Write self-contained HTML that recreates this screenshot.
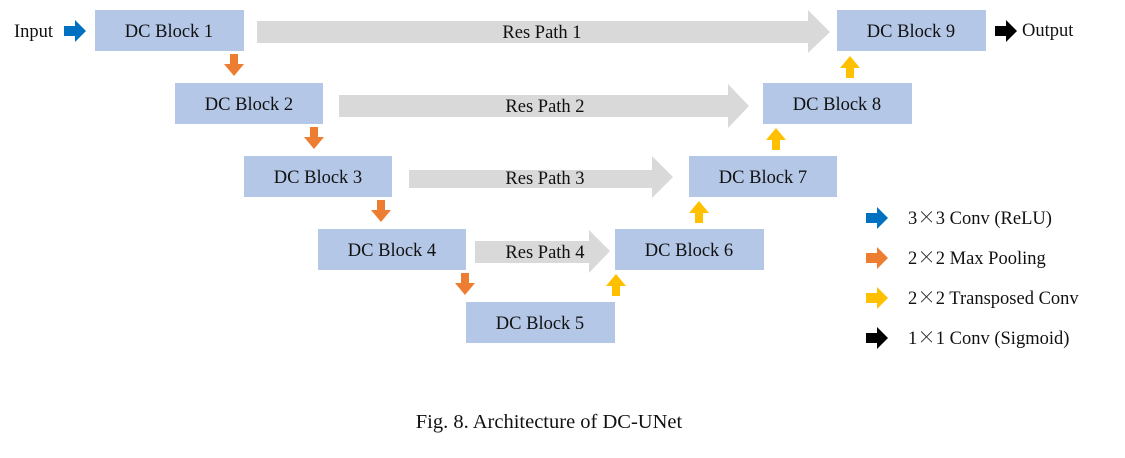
<!DOCTYPE html>
<html><head><meta charset="utf-8"><style>
body{margin:0;background:#fff;width:1125px;height:453px;overflow:hidden}
svg text{font-family:"Liberation Serif","Noto Serif CJK SC",serif;fill:#111}
.x{font-family:"Noto Serif CJK SC","Noto Sans CJK SC",serif}
</style></head><body>
<svg width="1125" height="453" xmlns="http://www.w3.org/2000/svg">
<g fill="#d9d9d9">
<polygon points="257,21 808,21 808,10 830,32 808,53 808,43 257,43"/>
<polygon points="339,95 728,95 728,84 749,106 728,128 728,117 339,117"/>
<polygon points="409,170 652,170 652,156 673,177 652,198 652,188 409,188"/>
<polygon points="475,241 589,241 589,230 610,251 589,273 589,263 475,263"/>
</g>
<g font-size="18.5" text-anchor="middle">
<text x="542" y="38">Res Path 1</text>
<text x="545" y="112">Res Path 2</text>
<text x="545" y="184">Res Path 3</text>
<text x="545" y="258">Res Path 4</text>
</g>
<g fill="#b4c7e7">
<rect x="95" y="10" width="149" height="41"/>
<rect x="175" y="83" width="148" height="41"/>
<rect x="244" y="156" width="148" height="41"/>
<rect x="318" y="229" width="148" height="41"/>
<rect x="466" y="302" width="149" height="41"/>
<rect x="615" y="229" width="149" height="41"/>
<rect x="689" y="156" width="148" height="41"/>
<rect x="763" y="83" width="149" height="41"/>
<rect x="837" y="10" width="149" height="41"/>
</g>
<g font-size="18.5" text-anchor="middle">
<text x="169" y="37">DC Block 1</text>
<text x="249" y="110">DC Block 2</text>
<text x="318" y="183">DC Block 3</text>
<text x="392" y="256">DC Block 4</text>
<text x="540" y="329">DC Block 5</text>
<text x="689" y="256">DC Block 6</text>
<text x="763" y="183">DC Block 7</text>
<text x="837" y="110">DC Block 8</text>
<text x="911" y="37">DC Block 9</text>
</g>
<defs>
<polygon id="dn" points="-4,0 4,0 4,10 10,10 0,22 -10,10 -4,10"/>
<polygon id="up" points="-4,22 4,22 4,12 10,12 0,0 -10,12 -4,12"/>
<polygon id="rt" points="0,-5 11,-5 11,-11 22,0 11,11 11,5 0,5"/>
</defs>
<g fill="#ed7d31">
<use href="#dn" x="234" y="54"/>
<use href="#dn" x="314" y="127"/>
<use href="#dn" x="381" y="200"/>
<use href="#dn" x="465" y="273"/>
</g>
<g fill="#ffc000">
<use href="#up" x="616" y="274"/>
<use href="#up" x="699" y="201"/>
<use href="#up" x="776" y="128"/>
<use href="#up" x="850" y="56"/>
</g>
<text x="14" y="37" font-size="18.5">Input</text>
<use href="#rt" x="64" y="31" fill="#0070c0"/>
<use href="#rt" x="995" y="31" fill="#000"/>
<text x="1022" y="36" font-size="18.5">Output</text>
<use href="#rt" x="866" y="218" fill="#0070c0"/>
<use href="#rt" x="866" y="258" fill="#ed7d31"/>
<use href="#rt" x="866" y="298" fill="#ffc000"/>
<use href="#rt" x="866" y="338" fill="#000"/>
<g font-size="18.5">
<text x="908" y="224">3<tspan class="x">×</tspan>3 Conv (ReLU)</text>
<text x="908" y="264">2<tspan class="x">×</tspan>2 Max Pooling</text>
<text x="908" y="304">2<tspan class="x">×</tspan>2 Transposed Conv</text>
<text x="908" y="344">1<tspan class="x">×</tspan>1 Conv (Sigmoid)</text>
</g>
<text x="549" y="428" font-size="20.5" text-anchor="middle">Fig. 8. Architecture of DC-UNet</text>
</svg>
</body></html>
